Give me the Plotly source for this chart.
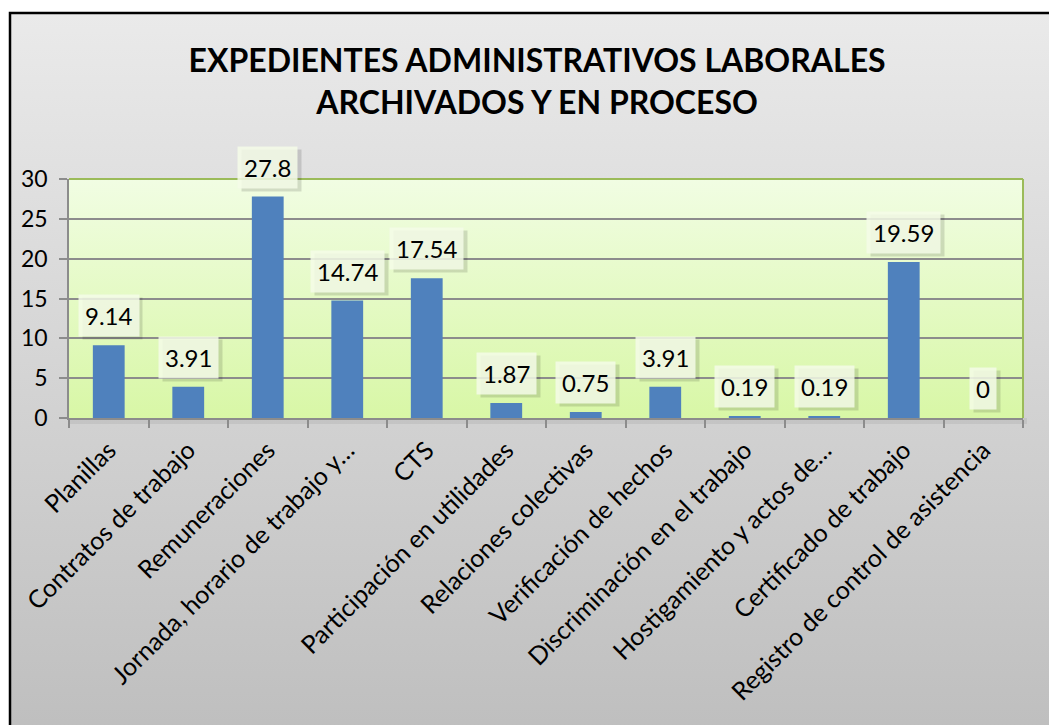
import base64
import plotly.graph_objects as go

categorias = [
    "Planillas",
    "Contratos de trabajo",
    "Remuneraciones",
    "Jornada, horario de trabajo y…",
    "CTS",
    "Participación en utilidades",
    "Relaciones colectivas",
    "Verificación de hechos",
    "Discriminación en el trabajo",
    "Hostigamiento y actos de…",
    "Certificado de trabajo",
    "Registro de control de asistencia",
]
valores = [9.14, 3.91, 27.8, 14.74, 17.54, 1.87, 0.75, 3.91, 0.19, 0.19, 19.59, 0]
etiquetas = ["9.14", "3.91", "27.8", "14.74", "17.54", "1.87", "0.75", "3.91", "0.19", "0.19", "19.59", "0"]
y_ticks = [0, 5, 10, 15, 20, 25, 30]

titulo = "EXPEDIENTES ADMINISTRATIVOS LABORALES<br>ARCHIVADOS Y EN PROCESO"

FONT = "Lato"

W, H = 1049, 725
L, R, T, B = 69, 26, 179, 307
pw, ph = W - L - R, H - T - B


def px_x(x):
    # page pixel -> paper fraction
    return (x - L) / pw


def px_y(y):
    return (H - B - y) / ph


def gradient_svg(top, bottom):
    svg = (
        '<svg xmlns="http://www.w3.org/2000/svg" width="100" height="100" '
        'viewBox="0 0 100 100" preserveAspectRatio="none">'
        '<defs><linearGradient id="g" x1="0" y1="0" x2="0" y2="1">'
        f'<stop offset="0" stop-color="{top}"/><stop offset="1" stop-color="{bottom}"/>'
        '</linearGradient></defs><rect width="100" height="100" fill="url(#g)"/></svg>'
    )
    return "data:image/svg+xml;base64," + base64.b64encode(svg.encode()).decode()


def blank(t):
    # same-width invisible text for the shadow box
    return "".join("\u2008" if ch == "." else "\u2007" for ch in t)


fig = go.Figure()
fig.add_trace(go.Bar(
    x=categorias, y=valores, width=0.4,
    marker=dict(color="#4f81bd", line=dict(width=0)),
    hoverinfo="x+y",
))

# data label boxes with a soft shadow
for c, v, t in zip(categorias, valores, etiquetas):
    fig.add_annotation(
        x=c, y=v, text=blank(t), showarrow=False, yanchor="bottom", yshift=5, xshift=4,
        font=dict(family=FONT, size=24, color="black"),
        bgcolor="rgba(0,0,0,0.13)", borderpad=6,
    )
    fig.add_annotation(
        x=c, y=v, text=t, showarrow=False, yanchor="bottom", yshift=8,
        font=dict(family=FONT, size=24, color="black"),
        bgcolor="rgba(244,252,232,0.85)", borderpad=6,
    )

# chart area background and border
fig.add_layout_image(
    source=gradient_svg("#eaeaea", "#bebebe"), xref="paper", yref="paper",
    x=px_x(10), y=px_y(13), sizex=px_x(1060) - px_x(10), sizey=px_y(13) - px_y(740),
    sizing="stretch", layer="below", xanchor="left", yanchor="top",
)
fig.add_layout_image(
    source=gradient_svg("#f1fde3", "#d8f7a6"), xref="paper", yref="paper",
    x=0, y=1, sizex=1, sizey=1,
    sizing="stretch", layer="below", xanchor="left", yanchor="top",
)
fig.add_shape(
    type="rect", xref="paper", yref="paper",
    x0=px_x(10), y0=px_y(760), x1=px_x(1080), y1=px_y(13),
    line=dict(color="black", width=2.5), layer="above",
)
# faint shadow under the plot area
fig.add_shape(
    type="rect", xref="paper", yref="paper",
    x0=0, y0=px_y(424), x1=px_x(1027), y1=0,
    fillcolor="rgba(0,0,0,0.06)", line=dict(width=0), layer="below",
)
fig.add_shape(type="line", xref="paper", yref="paper", x0=0, x1=1, y0=1, y1=1,
              line=dict(color="#9bbb59", width=2))
fig.add_shape(type="line", xref="paper", yref="paper", x0=1, x1=1, y0=0, y1=1,
              line=dict(color="#9bbb59", width=2))

fig.update_layout(
    width=W, height=H,
    margin=dict(l=L, r=R, t=T, b=B),
    paper_bgcolor="white",
    plot_bgcolor="rgba(0,0,0,0)",
    showlegend=False,
    bargap=0.6,
    title=dict(
        text=titulo, x=0.512, xanchor="center", yref="container", y=1 - 72 / H, yanchor="top",
        font=dict(family=FONT, size=32, color="black", weight="bold"),
    ),
    font=dict(family=FONT, color="black"),
)
fig.update_xaxes(
    type="category", tickangle=-45, tickson="boundaries",
    ticks="outside", ticklen=8, tickcolor="#8c8c8c", tickwidth=1.5,
    showline=True, linecolor="#8c8c8c", linewidth=1.5,
    showgrid=False, tickfont=dict(family=FONT, size=25), ticklabelstandoff=6,
)
fig.update_yaxes(
    range=[0, 30], tickvals=y_ticks,
    ticks="outside", ticklen=8, tickcolor="#8c8c8c", tickwidth=1.5,
    showline=True, linecolor="#8c8c8c", linewidth=1.5,
    showgrid=True, gridcolor="#8c8c8c", gridwidth=1.5,
    zeroline=False, tickfont=dict(family=FONT, size=23), ticklabelstandoff=7,
)

fig.write_html(
    "out.html",
    config={"displayModeBar": False},
    post_script="document.body.style.margin='0';document.body.style.overflow='hidden';",
)
